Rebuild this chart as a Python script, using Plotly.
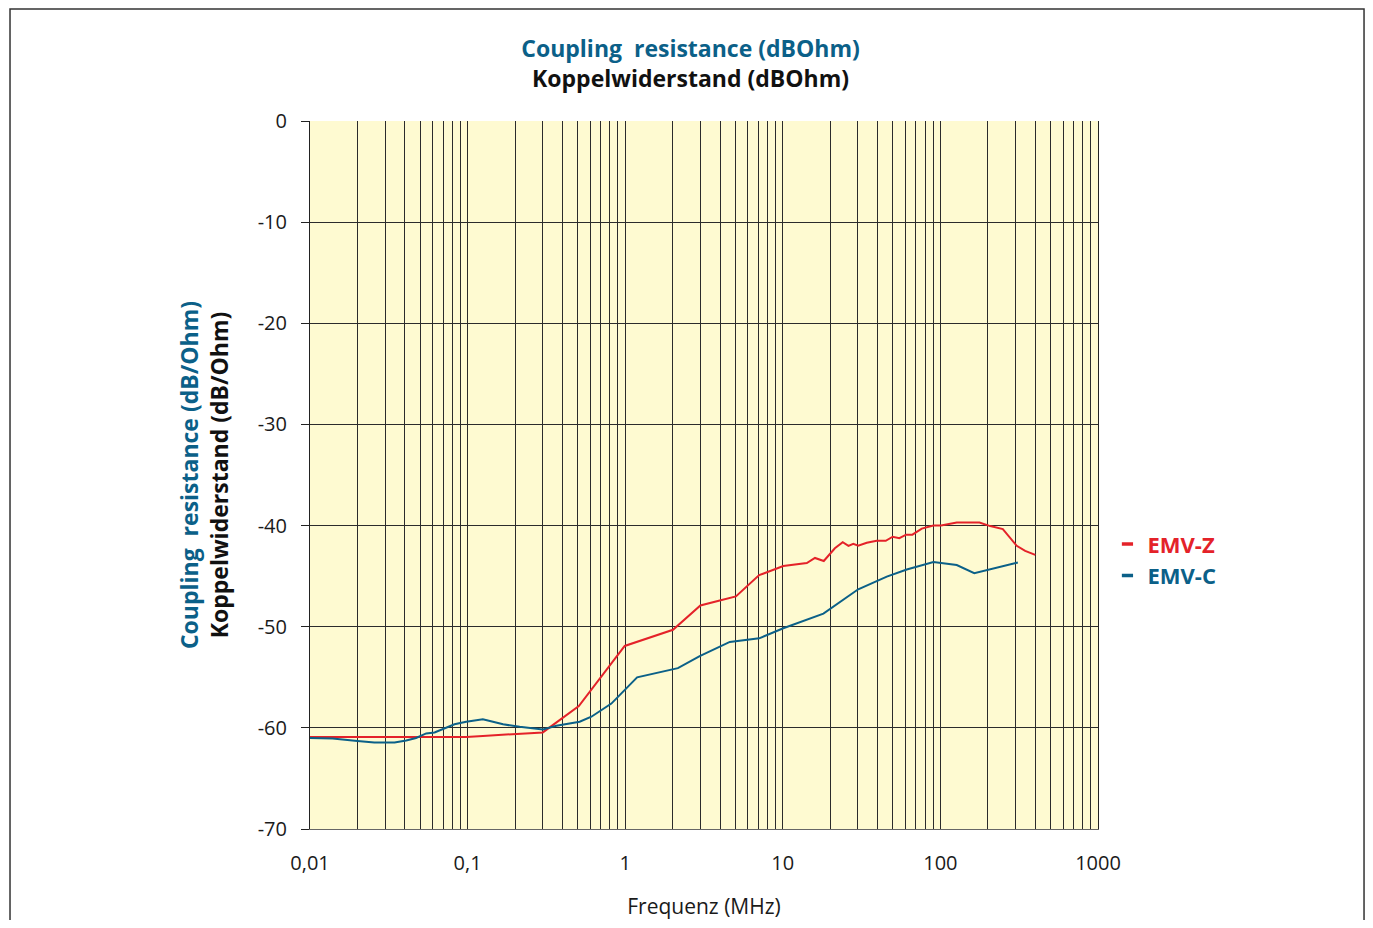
import plotly.graph_objects as go

RED = "#E42229"
BLUE = "#0B6088"

freq_z = [0.01, 0.098, 0.125, 0.30, 0.508, 0.993, 2.01, 3.0, 3.98, 5.04, 7.08, 10.07,
          14.2, 16.0, 18.2, 21.4, 24.0, 26.1, 28.0, 30.1, 34.1, 39.4, 45.0, 49.8, 54.9,
          60.6, 66.4, 76.2, 90.3, 101, 127, 177, 207, 249, 305, 345, 400]
emv_z = [-60.9, -60.9, -60.8, -60.45, -57.85, -51.9, -50.3, -47.9, -47.4, -47.0, -44.9, -44.0,
         -43.7, -43.2, -43.5, -42.25, -41.65, -42.0, -41.8, -42.0, -41.7, -41.5, -41.5, -41.1, -41.25,
         -40.9, -40.9, -40.3, -40.0, -40.0, -39.7, -39.7, -40.05, -40.35, -42.0, -42.5, -42.9]

freq_c = [0.01, 0.0139, 0.02, 0.0256, 0.0344, 0.0408, 0.0471, 0.0546, 0.0617, 0.0696, 0.0826,
          0.098, 0.125, 0.168, 0.214, 0.30, 0.366, 0.514, 0.61, 0.817, 1.19, 2.16, 2.97, 4.61,
          7.08, 10.07, 18.1, 30.1, 45.7, 61.2, 90.3, 127, 164, 310]
emv_c = [-61.0, -61.05, -61.3, -61.45, -61.45, -61.25, -61.0, -60.55, -60.45, -60.1, -59.65,
         -59.4, -59.15, -59.65, -59.9, -60.15, -59.8, -59.4, -58.9, -57.6, -55.0, -54.1, -52.9, -51.5,
         -51.15, -50.15, -48.7, -46.3, -45.05, -44.35, -43.6, -43.9, -44.7, -43.65]

decades = [0.01, 0.1, 1, 10, 100, 1000]
decade_labels = ["0,01", "0,1", "1", "10", "100", "1000"]
y_ticks = [0, -10, -20, -30, -40, -50, -60, -70]
y_labels = ["0", "-10", "-20", "-30", "-40", "-50", "-60", "-70"]

# every 1..9 step of each decade gets a grid line, labels only on the decades
grid_vals = []
grid_text = []
for i, d in enumerate(decades[:-1]):
    for k in range(1, 10):
        grid_vals.append(d * k)
        grid_text.append(decade_labels[i] if k == 1 else "")
grid_vals.append(1000)
grid_text.append("1000")
minor_vals = [v for v in grid_vals if v not in decades]

fig = go.Figure()

fig.add_trace(go.Scatter(x=freq_z, y=emv_z, mode="lines", line=dict(color=RED, width=2),
                         showlegend=False))
fig.add_trace(go.Scatter(x=freq_c, y=emv_c, mode="lines", line=dict(color=BLUE, width=2),
                         showlegend=False))

# legend entries: short thick dash + coloured bold name
for name, col in [("EMV-Z", RED), ("EMV-C", BLUE)]:
    fig.add_trace(go.Scatter(
        x=[None], y=[None], mode="markers",
        name=f"<span style='color:{col}'><b>{name}</b></span>",
        marker=dict(symbol="line-ew-open", size=8, color=col, line=dict(color=col, width=3.5)),
    ))

# page body has an 8px margin, so the figure is kept inside the window and shifted
fig.update_layout(
    width=1357,
    height=912,
    margin=dict(l=302, r=267, t=113, b=91),
    paper_bgcolor="white",
    plot_bgcolor="#FEFAD1",
    font=dict(family="Open Sans", size=20, color="#1a1a1a"),
    title=dict(
        text=f"<span style='color:{BLUE}'><b>Coupling&nbsp; resistance (dBOhm)</b></span><br><b>Koppelwiderstand (dBOhm)</b>",
        x=0.503, xanchor="center", y=0.946, yanchor="top",
        font=dict(family="Open Sans", size=23, color="#111111"),
    ),
    legend=dict(x=1.012, y=0.432, xanchor="left", yanchor="top", bgcolor="rgba(0,0,0,0)",
                font=dict(size=22), itemwidth=30, tracegroupgap=0),
    xaxis=dict(
        type="log", range=[-2, 3], automargin=False,
        tickmode="array", tickvals=grid_vals, ticktext=grid_text,
        showgrid=True, gridcolor="#2b2b2b", gridwidth=1,
        ticks="", showline=True, linecolor="#666666", linewidth=1,
        tickfont=dict(size=20, color="#1a1a1a"), ticklabelstandoff=16,
        title=dict(text="Frequenz (MHz)", font=dict(size=21, color="#1a1a1a"), standoff=26),
        zeroline=False,
    ),
    xaxis2=dict(
        type="log", range=[-2, 3], overlaying="x", side="top", automargin=False,
        tickmode="array", tickvals=decades, ticks="outside", ticklen=8, tickwidth=1.5,
        tickcolor="#222222", showticklabels=False, showgrid=False,
        minor=dict(tickmode="array", tickvals=minor_vals, ticks="outside", ticklen=6,
                   tickwidth=1.5, tickcolor="#555555", showgrid=False),
        showline=True, linecolor="#222222", linewidth=1.5,
    ),
    yaxis=dict(
        range=[-70, 0], tickmode="array", tickvals=y_ticks, ticktext=y_labels,
        automargin=False,
        showgrid=True, gridcolor="#2b2b2b", gridwidth=1,
        ticks="outside", ticklen=8, tickcolor="#222222", ticklabelstandoff=10,
        showline=True, linecolor="#222222", linewidth=1, mirror=True,
        tickfont=dict(size=20, color="#1a1a1a"), zeroline=False,
        title=dict(
            text=f"<span style='color:{BLUE}'><b>Coupling&nbsp; resistance (dB/Ohm)</b></span><br><b>Koppelwiderstand (dB/Ohm)</b>",
            font=dict(size=23, color="#111111"), standoff=22,
        ),
    ),
    shapes=[dict(type="rect", xref="paper", yref="paper",
                 x0=-0.3807, x1=1.3376, y0=-0.2, y1=1.1582,
                 line=dict(color="#333333", width=1.5), fillcolor="rgba(0,0,0,0)", layer="below")],
)

fig.write_html("out.html")
